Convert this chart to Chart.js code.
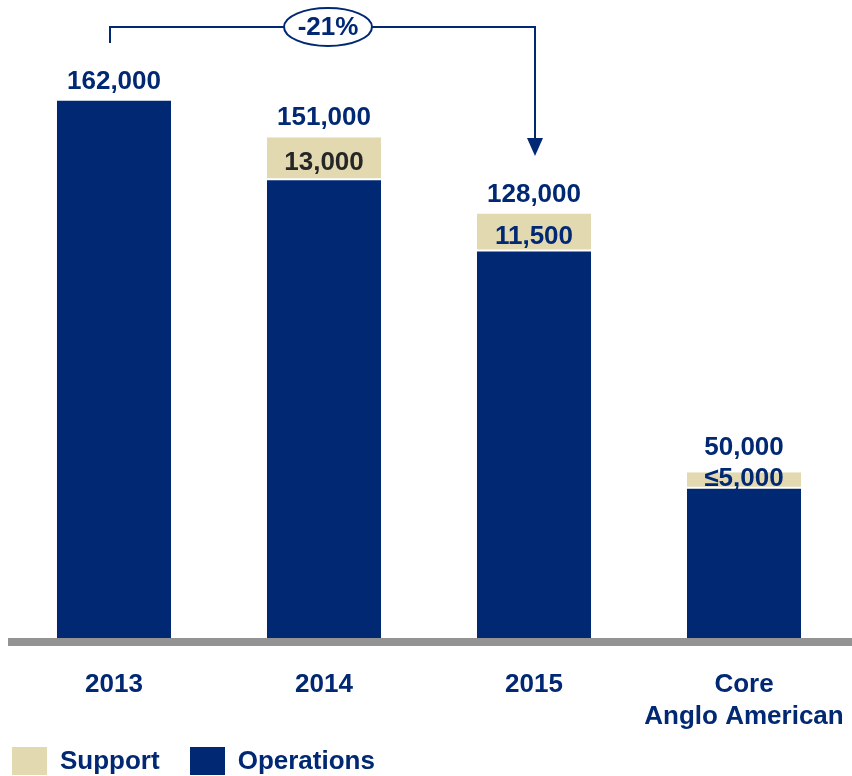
<!DOCTYPE html>
<html>
<head>
<meta charset="utf-8">
<script src="https://cdn.jsdelivr.net/npm/chart.js@4"></script>
<style>
  html, body { margin: 0; padding: 0; background: #ffffff; }
  #wrap { width: 852px; height: 776px; position: relative; }
  #legend {
    position: absolute; left: 12px; top: 745px;
    display: flex; align-items: center;
    font: bold 26px "Liberation Sans", Arial, sans-serif;
  }
  #legend .item { display: flex; align-items: center; margin-right: 30px; }
  #legend .box { width: 35px; height: 28px; margin-right: 13px; }
</style>
</head>
<body>
<div id="wrap"><canvas id="chart"></canvas><div id="legend"></div></div>
<script>
// Headcount by year, split into operations and support staff
const categories = ['2013', '2014', '2015', ['Core', 'Anglo American']];
const operations = [162000, 138000, 116500, 45000];
const support = [null, 13000, 11500, 5000];
const totalLabels = ['162,000', '151,000', '128,000', '50,000'];
const supportLabels = ['', '13,000', '11,500', '\u22645,000'];
const changeLabel = '-21%';

const NAVY = '#002873';
const BEIGE = '#E2D9B1';
const GREY = '#939393';
const FONT = '"Liberation Sans", Arial, sans-serif';
const LABEL_FONT = 'bold 26px ' + FONT;
const supportLabelColors = ['#262626', '#262626', NAVY, NAVY];

// Grey floor under the bars
const floorPlugin = {
  id: 'floor',
  afterDatasetsDraw(chart) {
    const { ctx, scales: { y } } = chart;
    const top = y.getPixelForValue(0);
    ctx.save();
    ctx.fillStyle = GREY;
    ctx.fillRect(8, top, chart.width - 8, 8);
    ctx.restore();
  }
};

// Totals above the bars and support figures inside the support segments
const valueLabels = {
  id: 'valueLabels',
  afterDatasetsDraw(chart) {
    const { ctx, scales: { x, y } } = chart;
    ctx.save();
    ctx.font = LABEL_FONT;
    ctx.textAlign = 'center';
    ctx.textBaseline = 'middle';
    categories.forEach((c, i) => {
      const cx = x.getPixelForValue(i);
      const ops = operations[i];
      const sup = support[i] || 0;
      const topPx = y.getPixelForValue(ops + sup);
      let totalY = topPx - 19;
      if (sup) {
        const opsTop = y.getPixelForValue(ops);
        const segMid = (opsTop + topPx) / 2;
        const supY = Math.min(segMid + 4, opsTop - 10);
        ctx.fillStyle = supportLabelColors[i];
        ctx.fillText(supportLabels[i], cx, supY);
        totalY = Math.min(totalY, supY - 31);
      }
      ctx.fillStyle = NAVY;
      ctx.fillText(totalLabels[i], cx, totalY);
    });
    ctx.restore();
  }
};

// Bracket arrow from 2013 to 2015 with the change badge
const changeArrow = {
  id: 'changeArrow',
  afterDraw(chart) {
    const { ctx, scales: { x } } = chart;
    const x0 = x.getPixelForValue(0) - 4;
    const x2 = x.getPixelForValue(2) + 1;
    const xm = x.getPixelForValue(1) + 4;
    const yl = 27;
    ctx.save();
    ctx.strokeStyle = NAVY;
    ctx.fillStyle = NAVY;
    ctx.lineWidth = 2;
    ctx.beginPath();
    ctx.moveTo(x0, 43);
    ctx.lineTo(x0, yl);
    ctx.lineTo(x2, yl);
    ctx.lineTo(x2, 140);
    ctx.stroke();
    ctx.beginPath();
    ctx.moveTo(x2 - 8, 138);
    ctx.lineTo(x2 + 8, 138);
    ctx.lineTo(x2, 156);
    ctx.closePath();
    ctx.fill();
    ctx.beginPath();
    ctx.ellipse(xm, yl, 44, 19, 0, 0, Math.PI * 2);
    ctx.fillStyle = '#ffffff';
    ctx.fill();
    ctx.stroke();
    ctx.fillStyle = NAVY;
    ctx.font = LABEL_FONT;
    ctx.textAlign = 'center';
    ctx.textBaseline = 'middle';
    ctx.fillText(changeLabel, xm, yl + 1);
    ctx.restore();
  }
};

// Legend built from the chart's own legend items, support listed first
const htmlLegend = {
  id: 'htmlLegend',
  afterUpdate(chart) {
    const el = document.getElementById('legend');
    el.innerHTML = '';
    const items = chart.options.plugins.legend.labels.generateLabels(chart).reverse();
    items.forEach(item => {
      const row = document.createElement('div');
      row.className = 'item';
      const box = document.createElement('span');
      box.className = 'box';
      box.style.background = item.fillStyle;
      const txt = document.createElement('span');
      txt.textContent = item.text;
      txt.style.color = NAVY;
      row.appendChild(box);
      row.appendChild(txt);
      el.appendChild(row);
    });
  }
};

new Chart(document.getElementById('chart'), {
  type: 'bar',
  data: {
    labels: categories,
    datasets: [
      {
        label: 'Operations',
        data: operations,
        backgroundColor: NAVY,
        borderWidth: 0
      },
      {
        label: 'Support',
        data: support,
        backgroundColor: BEIGE,
        borderColor: '#ffffff',
        borderWidth: { top: 0, left: 0, right: 0, bottom: 2 },
        borderSkipped: false
      }
    ]
  },
  options: {
    responsive: true,
    maintainAspectRatio: false,
    animation: false,
    layout: { padding: { top: 41, left: 9, right: 3, bottom: 42 } },
    datasets: {
      bar: { categoryPercentage: 1, barPercentage: 0.543 }
    },
    plugins: {
      tooltip: { enabled: false },
      legend: { display: false }
    },
    scales: {
      x: {
        stacked: true,
        grid: { display: false, drawTicks: false },
        border: { display: false },
        ticks: {
          color: NAVY,
          padding: 31,
          maxRotation: 0,
          autoSkip: false,
          font: { family: FONT, size: 26, weight: 'bold', lineHeight: 1.23 }
        },
        afterFit(axis) {
          axis.height = 96;
          axis.paddingLeft = 0;
          axis.paddingRight = 0;
        }
      },
      y: {
        display: false,
        stacked: true,
        min: 0,
        max: 180000
      }
    }
  },
  plugins: [floorPlugin, valueLabels, changeArrow, htmlLegend]
});
</script>
</body>
</html>
